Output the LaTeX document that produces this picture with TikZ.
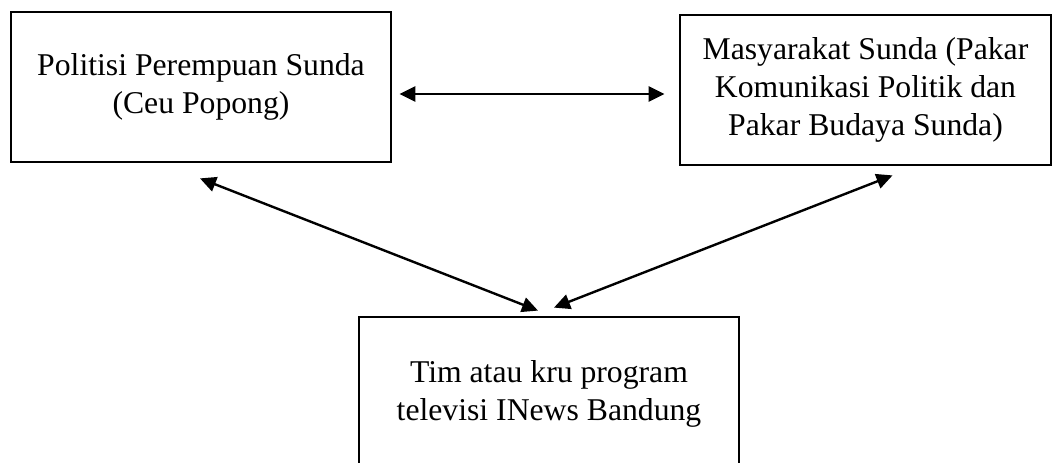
\documentclass[tikz,border=0pt]{standalone}
\usepackage{fontspec}
\setmainfont{Liberation Serif}
\usetikzlibrary{arrows.meta}

\tikzset{
	kotak/.style={draw, line width=2.8pt, align=center, inner sep=0pt,
		font=\fontsize{31.7}{38}\selectfont},
	panah/.style={{Triangle[length=16pt,width=15pt]}-{Triangle[length=16pt,width=15pt]},
		line width=2.4pt},
}

\begin{document}
\begin{tikzpicture}[x=1pt, y=-1pt]
		\clip (0,0) rectangle (1053,463);
		\useasboundingbox (0,0) rectangle (1053,463);

		\node[kotak, minimum width=380pt, minimum height=150pt] (politisi) at (201,87)
			{Politisi Perempuan Sunda\\(Ceu Popong)};
		\node[kotak, minimum width=371pt, minimum height=150pt] (masyarakat) at (865.5,90)
			{Masyarakat Sunda (Pakar\\Komunikasi Politik dan\\Pakar Budaya Sunda)};
		\node[kotak, minimum width=380pt, minimum height=154pt] (tim) at (549,394)
			{Tim atau kru program\\televisi INews Bandung};

		% hubungan antar pihak
		\draw[panah] ([shift={(7,7)}]politisi.east) -- ([shift={(-14,4)}]masyarakat.west);
		\draw[panah] ([shift={(-1,15)}]politisi.south) -- ([shift={(-11,-5)}]tim.north);
		\draw[panah] ([shift={(27,9)}]masyarakat.south) -- ([shift={(5,-8)}]tim.north);
	\end{tikzpicture}
\end{document}
